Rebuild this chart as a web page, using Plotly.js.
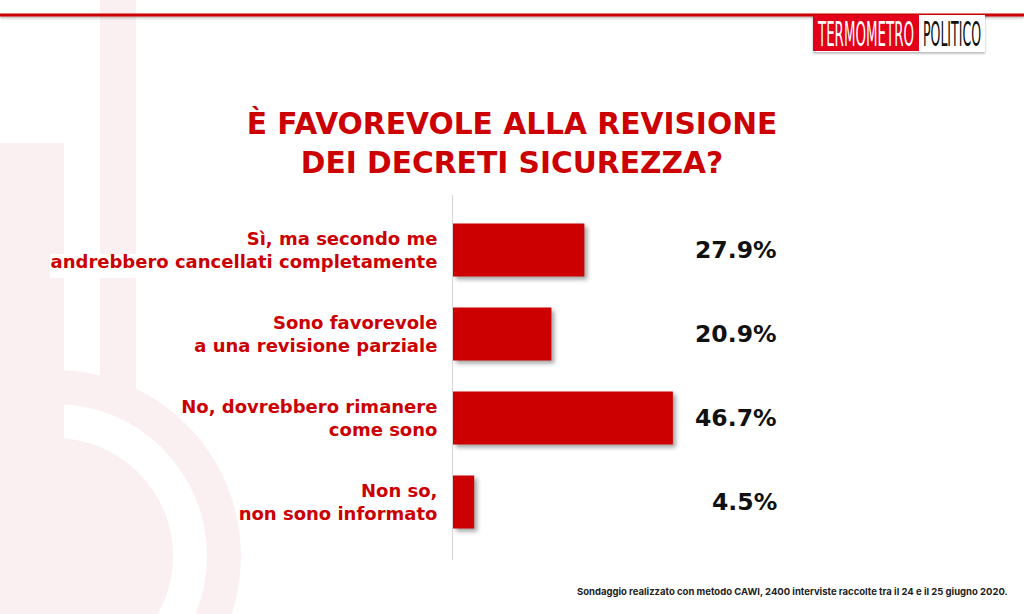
<!DOCTYPE html>
<html>
<head>
<meta charset="utf-8">
<script src="https://cdn.plot.ly/plotly-3.0.1.min.js"></script>
<style>
  html, body { margin: 0; padding: 0; background: #ffffff; }
  #wrap { position: relative; width: 1024px; height: 614px; overflow: hidden; background: #fff; }
  #bgsvg, #fgsvg { position: absolute; left: 0; top: 0; }
  #bgsvg { z-index: 0; }
  #chart { position: absolute; left: 0; top: 0; z-index: 1; }
  #fgsvg { z-index: 2; pointer-events: none; }
  #chart .bars .point path { filter: drop-shadow(3px 3px 2px rgba(0,0,0,0.35)); }
</style>
</head>
<body>
<div id="wrap">
  <svg id="bgsvg" width="1024" height="614">
    <g fill="#fbf0f1" stroke="none">
      <rect x="100" y="0" width="36" height="410"/>
      <path fill-rule="evenodd" d="M 241 556 A 186 186 0 1 0 -131 556 A 186 186 0 1 0 241 556 Z M 207 556 A 152 152 0 1 0 -97 556 A 152 152 0 1 0 207 556 Z"/>
      <rect x="0" y="143" width="64" height="471"/>
      <circle cx="55" cy="556" r="118"/>
    </g>
    <rect x="50" y="254" width="390" height="24" fill="#ffffff"/>
  </svg>
  <div id="chart"></div>
  <svg id="fgsvg" width="1024" height="614">
    <defs>
      <filter id="sh" x="-5%" y="-50%" width="110%" height="300%">
        <feDropShadow dx="0" dy="1.5" stdDeviation="1" flood-color="#000" flood-opacity="0.3"/>
      </filter>
    </defs>
    <rect x="0" y="13.5" width="1024" height="3" fill="#cc0000" filter="url(#sh)"/>
    <rect x="813" y="15" width="172" height="37" fill="#ffffff" filter="url(#sh)"/>
    <rect x="813" y="15" width="106" height="36" fill="#e2001a"/>
    <text id="logo1" x="0" y="0" fill="#ffffff" font-family="Liberation Sans Narrow, DejaVu Sans Condensed, Arial Narrow, sans-serif" font-size="34">TERMOMETRO</text>
    <text id="logo2" x="0" y="0" fill="#111111" font-family="Liberation Sans Narrow, DejaVu Sans Condensed, Arial Narrow, sans-serif" font-size="34">POLITICO</text>
  </svg>
</div>
<script>
// ---- data ----
const categories = [
  "Sì, ma secondo me<br>andrebbero cancellati completamente",
  "Sono favorevole<br>a una revisione parziale",
  "No, dovrebbero rimanere<br>come sono",
  "Non so,<br>non sono informato"
];
const values = [27.9, 20.9, 46.7, 4.5];
const titleText = "È FAVOREVOLE ALLA REVISIONE<br>DEI DECRETI SICUREZZA?";
const footnote = "Sondaggio realizzato con metodo CAWI, 2400 interviste raccolte tra il 24 e il 25 giugno 2020.";

const RED = "#cc0000";
const WIDE = "'DejaVu Sans', sans-serif";
const SMALL = "Inter, 'Open Sans', sans-serif";

// logo: squeeze real text horizontally to fit its box
function fitText(id, x, y, w) {
  const el = document.getElementById(id);
  const natural = el.getComputedTextLength();
  const s = w / natural;
  el.setAttribute("transform", "translate(" + x + "," + y + ") scale(" + s + ",1)");
}
fitText("logo1", 818, 46, 96);
fitText("logo2", 923, 46, 58);

const trace = {
  type: "bar",
  orientation: "h",
  x: values,
  y: categories,
  marker: { color: RED, line: { width: 0 } },
  width: 0.63,
  hoverinfo: "none",
  showlegend: false
};

const valueAnnotations = categories.map((c, i) => ({
  xref: "paper", yref: "y",
  x: 1, y: c,
  xanchor: "right", yanchor: "middle",
  xshift: 3,
  text: values[i].toFixed(1) + "%",
  showarrow: false,
  font: { family: WIDE, size: 23.5, color: "#111111", weight: 700 }
}));

const layout = {
  width: 1024,
  height: 614,
  margin: { l: 453, r: 248, t: 195, b: 54, pad: 0 },
  paper_bgcolor: "rgba(0,0,0,0)",
  plot_bgcolor: "rgba(0,0,0,0)",
  title: {
    text: titleText,
    x: 0.5, xref: "container", xanchor: "center",
    y: 1 - 134 / 614, yref: "container", yanchor: "top",
    font: { family: WIDE, size: 29.7, color: RED, weight: 700 }
  },
  xaxis: {
    range: [0, 68.6],
    visible: false,
    fixedrange: true
  },
  yaxis: {
    type: "category",
    range: [3.69, -0.655],
    showline: true,
    linecolor: "#d6d6d6",
    linewidth: 1,
    showgrid: false,
    zeroline: false,
    ticks: "",
    ticklabelstandoff: 11,
    tickfont: { family: WIDE, size: 18, color: RED, weight: 700 },
    fixedrange: true
  },
  annotations: valueAnnotations.concat([{
    xref: "paper", yref: "paper",
    x: (1007 - 453) / 323, y: (560 - 592) / 365,
    xanchor: "right", yanchor: "middle",
    xshift: 3,
    text: footnote,
    showarrow: false,
    font: { family: SMALL, size: 9.5, color: "#222222", weight: 700 }
  }]),
  bargap: 0.37
};

Plotly.newPlot("chart", [trace], layout, { displayModeBar: false, staticPlot: true });
</script>
</body>
</html>
